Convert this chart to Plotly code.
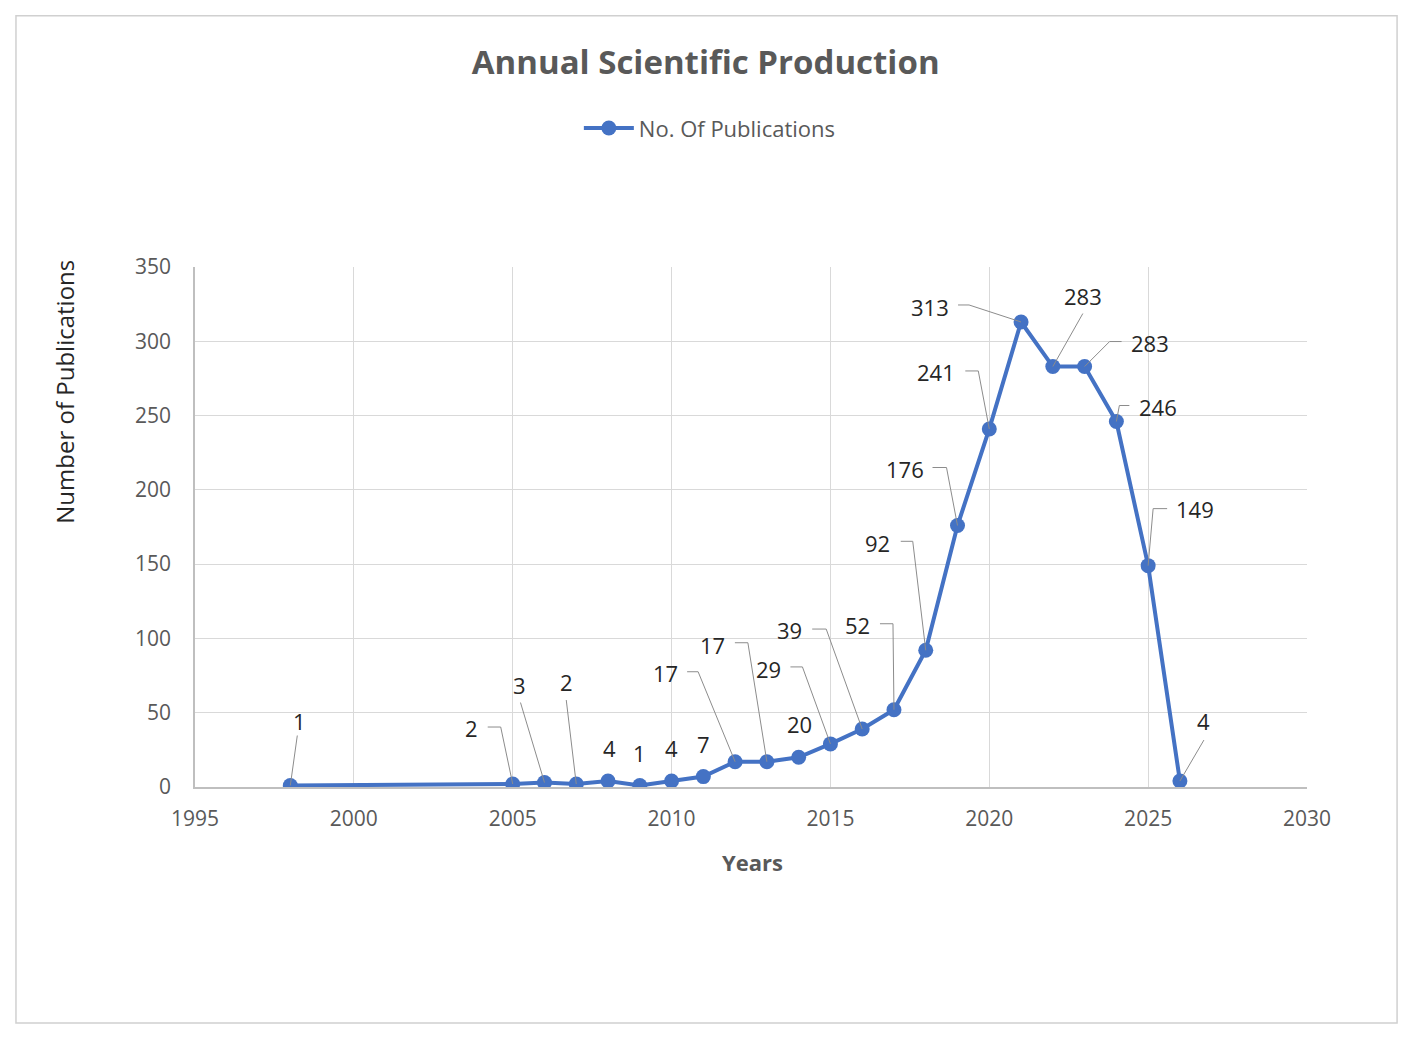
import plotly.graph_objects as go

# Publications per year
years = [1998, 2005, 2006, 2007, 2008, 2009, 2010, 2011, 2012, 2013, 2014, 2015,
         2016, 2017, 2018, 2019, 2020, 2021, 2022, 2023, 2024, 2025, 2026]
pubs = [1, 2, 3, 2, 4, 1, 4, 7, 17, 17, 20, 29,
        39, 52, 92, 176, 241, 313, 283, 283, 246, 149, 4]

# label offsets in pixels from each point (dx, dy up)
label_offsets = [(9, 65), (-41, 56), (-25, 98), (-10, 102), (1, 33), (0, 33), (0, 33), (0, 33),
                 (-70, 89), (-54, 117), (1, 33), (-62, 75), (-73, 99), (-36, 85), (-48, 107),
                 (-53, 57), (-53, 57), (-91, 15), (30, 71), (65, 24), (42, 15), (47, 57), (24, 60)]

# leader line vertices in pixels from each point (None = no leader)
leaders = [[(7, 50)], [(-12, 57), (-25, 57)], [(-24, 80)], [(-10, 84)], None, None, None, None,
           [(-37, 90), (-48, 90)], [(-19, 119), (-32, 119)], None, [(-28, 77), (-40, 77)],
           [(-36, 100), (-50, 100)], [(-1, 86), (-14, 86)], [(-13, 109), (-25, 109)],
           [(-11, 58), (-25, 58)], [(-11, 58), (-24, 58)], [(-52, 17), (-63, 17)],
           [(30, 53)], [(25, 25), (37, 25)], [(3, 16), (13, 16)], [(5, 57), (19, 57)], [(24, 41)]]

FONT = "Open Sans"
BLUE = "#4472C4"
GREY = "#595959"

fig = go.Figure()
fig.add_trace(go.Scatter(
    x=years, y=pubs, mode="lines+markers", name="No. Of Publications",
    line=dict(color=BLUE, width=4),
    marker=dict(color=BLUE, size=15),
))

annotations = []
shapes = []
for yr, v, (dx, dy), pts in zip(years, pubs, label_offsets, leaders):
    annotations.append(dict(
        x=yr, y=v, xref="x", yref="y", text=str(v), showarrow=False,
        xshift=dx, yshift=dy, font=dict(family=FONT, size=22, color="#262626"),
    ))
    if pts:
        path = "M0,0 " + " ".join("L%g,%g" % p for p in pts)
        shapes.append(dict(
            type="path", path=path, xref="x", yref="y",
            xsizemode="pixel", ysizemode="pixel", xanchor=yr, yanchor=v,
            line=dict(color="#8c8c8c", width=1), layer="above",
        ))

# axis titles
annotations.append(dict(
    text="Number of Publications", xref="paper", yref="paper", x=-0.117, y=0.76,
    xanchor="center", yanchor="middle",
    showarrow=False, textangle=-90, font=dict(family=FONT, size=24, color="#262626"),
))
annotations.append(dict(
    text="<b>Years</b>", xref="paper", yref="paper", x=0.501, y=-0.144,
    xanchor="center", yanchor="middle",
    showarrow=False, font=dict(family=FONT, size=22, color=GREY),
))

# chart border
shapes.append(dict(
    type="rect", xref="paper", yref="paper", x0=-0.161, x1=1.081, y0=-0.454, y1=1.483,
    line=dict(color="#d0d0d0", width=1.5), layer="below",
))

fig.update_layout(
    width=1401, height=1026,
    margin=dict(l=187, r=102, t=259, b=247),
    paper_bgcolor="white", plot_bgcolor="white",
    font=dict(family=FONT, color=GREY),
    title=dict(text="<b>Annual Scientific Production</b>", x=0.498, xanchor="center",
               y=1 - 54 / 1026, yanchor="middle",
               font=dict(family=FONT, size=33, color=GREY)),
    legend=dict(orientation="h", x=0.463, xanchor="center", y=1.267, yanchor="middle",
                itemwidth=50, font=dict(family=FONT, size=22, color=GREY)),
    annotations=annotations,
    shapes=shapes,
    showlegend=True,
)
fig.update_xaxes(
    range=[1995, 2030], dtick=5, tick0=1995, showgrid=True, gridcolor="#d9d9d9",
    showline=True, linecolor="#bfbfbf", linewidth=1.5, zeroline=False,
    tickfont=dict(family=FONT, size=21, color=GREY), ticklabelstandoff=12,
)
fig.update_yaxes(
    range=[0, 350], dtick=50, showgrid=True, gridcolor="#d9d9d9",
    showline=True, linecolor="#bfbfbf", linewidth=1.5, zeroline=False,
    tickfont=dict(family=FONT, size=21, color=GREY), ticklabelstandoff=18,
)

fig.write_html("out.html")
